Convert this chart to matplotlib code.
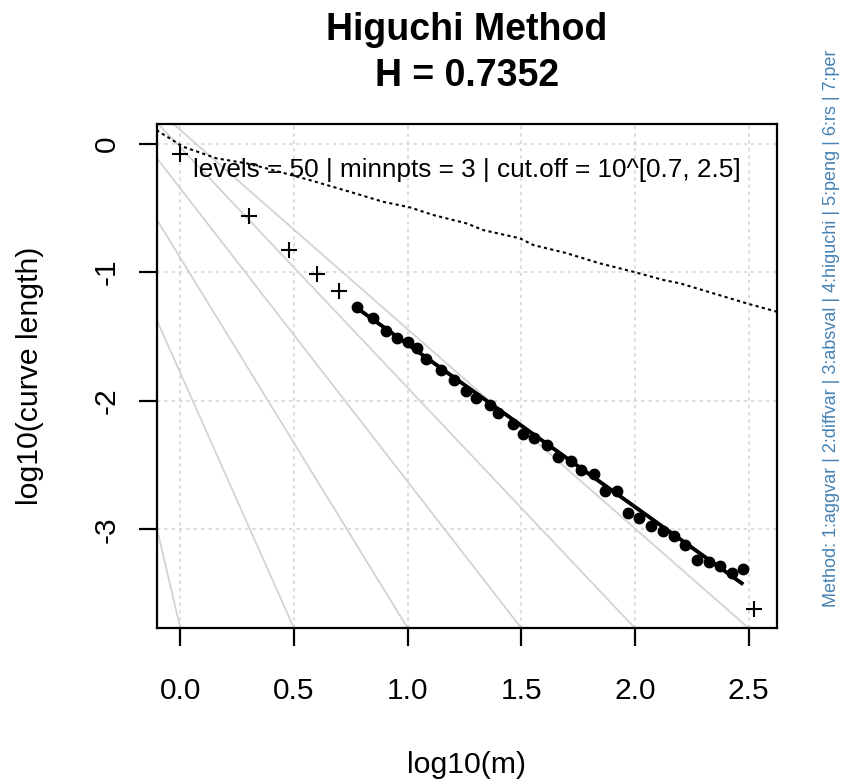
import numpy as np
import matplotlib
matplotlib.use("Agg")
import matplotlib.pyplot as plt

plt.rcParams['font.family'] = ['Liberation Sans', 'DejaVu Sans']

# ---- data ----
H = 0.7352
fit_intercept = -0.297

# points outside cut-off (plus markers)
plus_m = [1, 2, 3, 4, 5, 333]
plus_y = [-0.084, -0.564, -0.828, -1.015, -1.145, -3.620]

# points inside cut-off (filled dots)
dot_m = [6, 7, 8, 9, 10, 11, 12, 14, 16, 18, 20, 23, 25, 29, 32, 36, 41, 46, 52,
         58, 66, 74, 83, 93, 104, 118, 132, 148, 166, 188, 211, 236, 266, 299]
dot_y = [-1.269, -1.359, -1.456, -1.515, -1.546, -1.593, -1.676, -1.765, -1.841,
         -1.922, -1.981, -2.030, -2.092, -2.183, -2.261, -2.292, -2.342, -2.435,
         -2.467, -2.541, -2.572, -2.700, -2.700, -2.871, -2.914, -2.974, -3.013,
         -3.052, -3.122, -3.241, -3.257, -3.285, -3.337, -3.306]

# dotted reference curve
ref_x = [-0.105, 0.012, 0.159, 0.291, 0.379, 0.569, 0.745, 0.892, 1.009, 1.112,
         1.259, 1.332, 1.493, 1.552, 1.699, 1.845, 1.992, 2.124, 2.197, 2.344,
         2.491, 2.623]
ref_y = [0.105, -0.025, -0.115, -0.154, -0.193, -0.284, -0.375, -0.453, -0.496,
         -0.556, -0.621, -0.673, -0.737, -0.789, -0.853, -0.932, -0.997, -1.061,
         -1.087, -1.165, -1.243, -1.308]

# light gray guide lines: x where they meet the bottom, and slope
guide_x = [0.0, 0.5, 1.0, 1.5, 2.0, 2.5]
guide_slope = [-7.5, -3.97, -2.88, -2.28, -1.87, -1.55]

x_ticks = [0.0, 0.5, 1.0, 1.5, 2.0, 2.5]
x_ticklabels = ["0.0", "0.5", "1.0", "1.5", "2.0", "2.5"]
y_ticks = [0, -1, -2, -3]
y_ticklabels = ["0", "-1", "-2", "-3"]

title1 = "Higuchi Method"
title2 = "H = 0.7352"
info_text = "levels = 50 | minnpts = 3 | cut.off = 10^[0.7, 2.5]"
side_text = "Method: 1:aggvar | 2:diffvar | 3:absval | 4:higuchi | 5:peng | 6:rs | 7:per"

# ---- figure ----
W, Hpx = 848, 783
fig = plt.figure(figsize=(W / 100, Hpx / 100), dpi=100)
L, R, T, B = 156.5, 777.0, 124.0, 628.3
ax = fig.add_axes([L / W, 1 - B / Hpx, (R - L) / W, (B - T) / Hpx])

xlim = (-0.105, 2.624)
ylim = (-3.770, 0.152)
ax.set_xlim(*xlim)
ax.set_ylim(*ylim)

gray = '#D3D3D3'
# grid
for xv in x_ticks:
    ax.axvline(xv, color=gray, lw=1.1, linestyle=(0, (2.2, 2.6)), zorder=1)
for yv in y_ticks:
    ax.axhline(yv, color=gray, lw=1.1, linestyle=(0, (2.2, 2.6)), zorder=1)

# guide lines
ybot = ylim[0]
xx = np.array([-1.0, 3.0])
for gx, gs in zip(guide_x, guide_slope):
    ax.plot(xx, ybot + gs * (xx - gx), color=gray, lw=1.3, zorder=2)

# dotted reference
ax.plot(ref_x, ref_y, color='black', lw=1.5, linestyle=(0, (1.5, 1.6)), zorder=3)

# points
ax.plot(np.log10(plus_m), plus_y, linestyle='none', marker='+', ms=12, mew=1.5,
        color='black', zorder=4)
dx = np.log10(dot_m)
ax.plot(dx, dot_y, linestyle='none', marker='o', ms=7.5, color='black', zorder=4)

# fitted line
fx = np.array([dx[0], dx[-1]])
ax.plot(fx, fit_intercept + (H - 2) * fx, color='black', lw=2.8, zorder=5,
        solid_capstyle='butt')

# info text
ax.text(0.5, 1 - (177 - T) / (B - T), info_text, transform=ax.transAxes,
        ha='center', va='baseline', fontsize=18.8, zorder=6)

# axes styling
for s in ax.spines.values():
    s.set_linewidth(1.6)
    s.set_color('black')
ax.set_xticks(x_ticks)
ax.set_xticklabels(x_ticklabels)
ax.set_yticks(y_ticks)
ax.set_yticklabels(y_ticklabels)
ax.tick_params(axis='both', direction='out', length=13, width=1.6,
               labelsize=21.5, color='black')
ax.tick_params(axis='x', pad=22)
ax.tick_params(axis='y', pad=13, labelrotation=90)
for lab in ax.get_yticklabels():
    lab.set_va('center')

# labels
fig.text((L + R) / 2 / W, 1 - 765 / Hpx, "log10(m)", ha='center', va='center',
         fontsize=21.8)
fig.text(30 / W, 1 - ((T + B) / 2) / Hpx, "log10(curve length)", ha='center',
         va='center', rotation=90, fontsize=21.8)

# title
fig.text((L + R) / 2 / W, 1 - 40 / Hpx, title1, ha='center', va='baseline',
         fontsize=27, fontweight='bold')
fig.text((L + R) / 2 / W, 1 - 86 / Hpx, title2, ha='center', va='baseline',
         fontsize=27, fontweight='bold')

# side text
fig.text(832 / W, 1 - 607 / Hpx, side_text, ha='center', va='bottom',
         rotation=90, fontsize=13.0, color='#4682B4')

fig.savefig('out.png', dpi=100, facecolor='white')
